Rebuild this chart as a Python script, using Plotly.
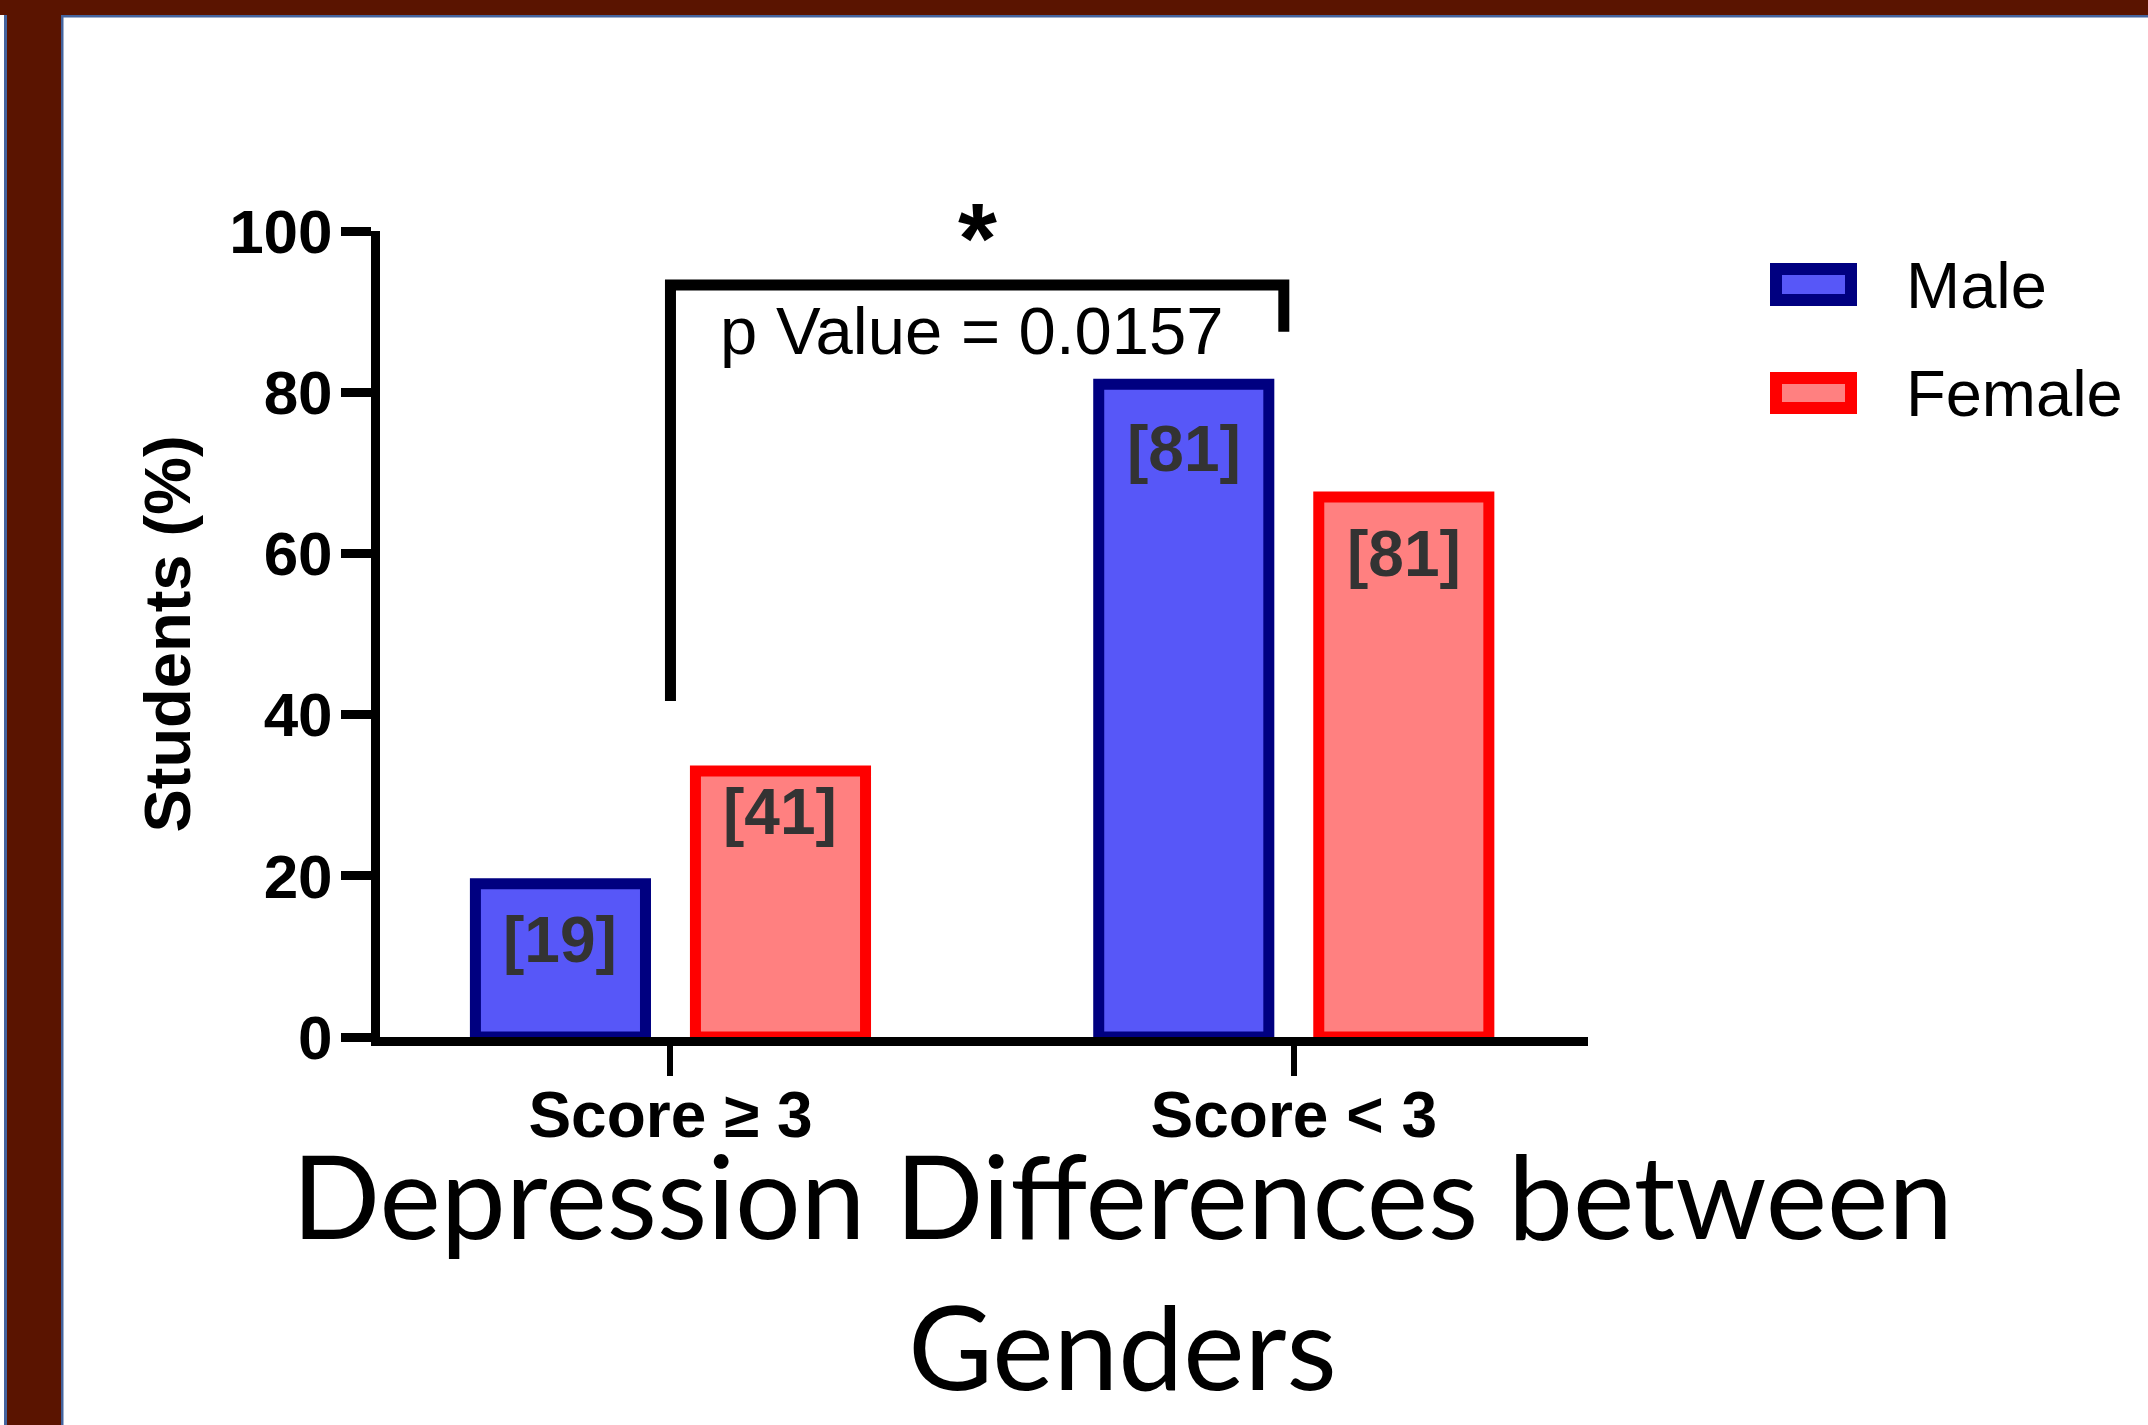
import plotly.graph_objects as go

# ---------------- data ----------------
categories = ["Score ≥ 3", "Score < 3"]
series_names = ["Male", "Female"]
male_pct = [19, 81]
female_pct = [33, 67]
male_counts = ["[19]", "[81]"]
female_counts = ["[41]", "[81]"]
y_tick_vals = [0, 20, 40, 60, 80, 100]
y_tick_text = ["0", "20", "40", "60", "80", "100"]

# significance bracket (category index / % units)
sig_x = [0, 0, 0.984, 0.984]
sig_y = [41.7, 93.3, 93.3, 87.5]
sig_star = "*"
sig_label = "p Value = 0.0157"
y_title = "Students (%)"
chart_title = "Depression Differences between<br>Genders"

# ---------------- style ----------------
W, H = 2148, 1425
ML, MR, MT, MB = 380, 560, 231, 388
PW, PH = W - ML - MR, H - MT - MB

MALE_FILL, MALE_LINE = "#5757F8", "#000080"
FEM_FILL, FEM_LINE = "#FF8080", "#FF0000"
BROWN = "#5A1400"
FRAME_BLUE = "#44649E"
AX_FONT = "Liberation Sans, Arial, sans-serif"
BARGAP, BARGROUPGAP = 0.294, 0.227
# pixel drop of each count label below its bar top (style)
male_label_drop = [-18, -27]
female_label_drop = [-3, -19]


def pxx(p):
    return (p - ML) / PW


def pxy(p):
    return (H - MB - p) / PH


fig = go.Figure()

annotations = []
slot = (1 - BARGAP) / 2
series = [
    (series_names[0], male_pct, male_counts, MALE_FILL, MALE_LINE, -slot / 2, male_label_drop),
    (series_names[1], female_pct, female_counts, FEM_FILL, FEM_LINE, slot / 2, female_label_drop),
]
for name, vals, labels, fill, line, off, drops in series:
    fig.add_trace(go.Bar(
        name=name, x=categories, y=vals,
        marker=dict(color=fill, line=dict(color=line, width=11)),
        showlegend=False, cliponaxis=False,
    ))
    for i, (v, lab, d) in enumerate(zip(vals, labels, drops)):
        annotations.append(dict(
            text=lab, x=i + off, y=v, xref="x", yref="y",
            xanchor="center", yanchor="top", yshift=d, showarrow=False,
            font=dict(family=AX_FONT, size=64, color="#333333", weight="bold")))

shapes = []
# bracket
path = "M " + " L ".join(f"{x},{y}" for x, y in zip(sig_x, sig_y))
shapes.append(dict(type="path", path=path, xref="x", yref="y",
                   line=dict(color="black", width=11)))

# manual legend swatches
leg_rows = [(series_names[0], MALE_FILL, MALE_LINE, 269, 300, 285),
            (series_names[1], FEM_FILL, FEM_LINE, 378, 408, 393)]
for name, fill, line, y0, y1, yc in leg_rows:
    shapes.append(dict(type="rect", xref="paper", yref="paper",
                       x0=pxx(1776), x1=pxx(1851), y0=pxy(y1), y1=pxy(y0),
                       fillcolor=fill, line=dict(color=line, width=12)))
    annotations.append(dict(text=name, xref="paper", yref="paper",
                            x=pxx(1904), y=pxy(yc), xanchor="left", yanchor="middle",
                            showarrow=False,
                            font=dict(family=AX_FONT, size=65, color="black")))

# frame decoration
shapes += [
    dict(type="rect", xref="paper", yref="paper", x0=pxx(0), x1=pxx(W), y0=pxy(15), y1=pxy(0),
         fillcolor=BROWN, line=dict(width=0), layer="above"),
    dict(type="rect", xref="paper", yref="paper", x0=pxx(61), x1=pxx(W), y0=pxy(17.5), y1=pxy(15),
         fillcolor=FRAME_BLUE, line=dict(width=0), layer="above"),
    dict(type="rect", xref="paper", yref="paper", x0=pxx(4), x1=pxx(7), y0=pxy(H), y1=pxy(15),
         fillcolor=FRAME_BLUE, line=dict(width=0), layer="above"),
    dict(type="rect", xref="paper", yref="paper", x0=pxx(7), x1=pxx(61), y0=pxy(H), y1=pxy(0),
         fillcolor=BROWN, line=dict(width=0), layer="above"),
    dict(type="rect", xref="paper", yref="paper", x0=pxx(61), x1=pxx(63.5), y0=pxy(H), y1=pxy(15),
         fillcolor=FRAME_BLUE, line=dict(width=0), layer="above"),
]

annotations += [
    dict(text=sig_star, x=(sig_x[1] + sig_x[2]) / 2, y=99.1, xref="x", yref="y",
         showarrow=False, xanchor="center", yanchor="middle",
         font=dict(family=AX_FONT, size=100, color="black", weight="bold")),
    dict(text=sig_label, x=0.483, y=87.7, xref="x", yref="y",
         showarrow=False, xanchor="center", yanchor="middle",
         font=dict(family=AX_FONT, size=67, color="black")),
    dict(text=chart_title, xref="paper", yref="paper", x=pxx(1122), y=pxy(1270),
         showarrow=False, xanchor="center", yanchor="middle", align="center",
         font=dict(family="Lato, Open Sans, sans-serif", size=116, color="black")),
]

fig.update_layout(
    width=W, height=H,
    margin=dict(l=ML, r=MR, t=MT, b=MB, autoexpand=False),
    paper_bgcolor="white", plot_bgcolor="white",
    barmode="group", bargap=BARGAP, bargroupgap=BARGROUPGAP,
    shapes=shapes, annotations=annotations,
    showlegend=False,
    xaxis=dict(
        range=[-0.466, 1.472], showline=True, linewidth=9, linecolor="black",
        ticks="outside", ticklen=30, tickwidth=6, tickcolor="black",
        ticklabelstandoff=-16,
        tickfont=dict(family=AX_FONT, size=64, color="black", weight="bold"),
        showgrid=False, zeroline=False, fixedrange=True,
    ),
    yaxis=dict(
        range=[0, 100], tickmode="array", tickvals=y_tick_vals, ticktext=y_tick_text,
        showline=True, linewidth=9, linecolor="black",
        ticks="outside", ticklen=30, tickwidth=9, tickcolor="black",
        ticklabelstandoff=-4,
        tickfont=dict(family=AX_FONT, size=62, color="black", weight="bold"),
        title=dict(text=y_title, standoff=21,
                   font=dict(family=AX_FONT, size=65, color="black", weight="bold")),
        showgrid=False, zeroline=False, fixedrange=True,
    ),
)

fig.write_html("out.html", config={"displayModeBar": False},
               post_script="document.body.style.margin='0';document.body.style.overflow='hidden';")
